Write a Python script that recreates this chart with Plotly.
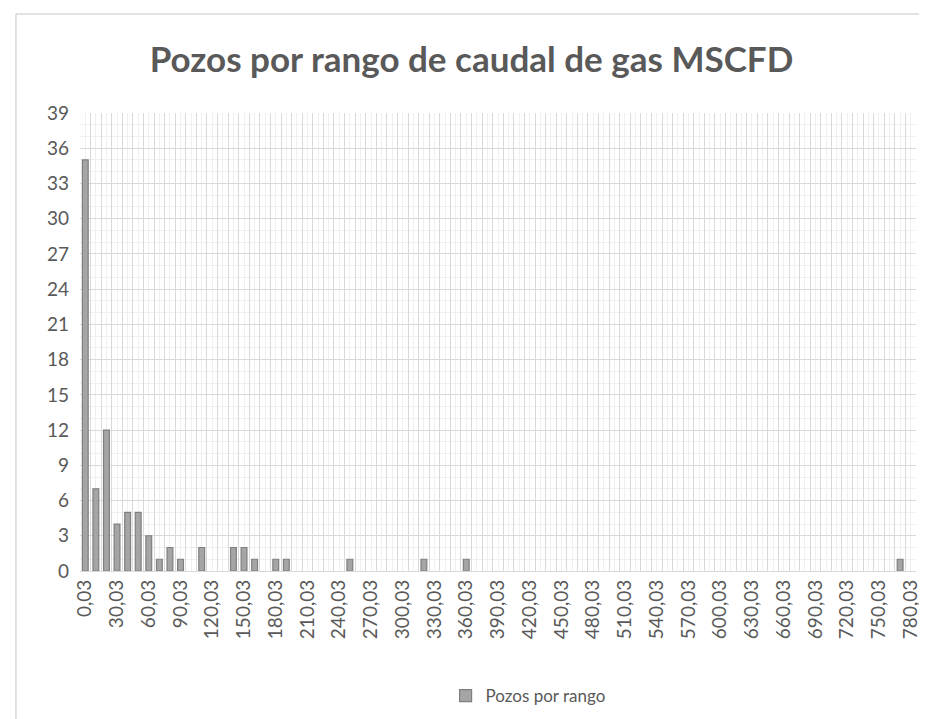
import plotly.graph_objects as go

categories = [f"{i*10},03" for i in range(79)]
values = [35, 7, 12, 4, 5, 5, 3, 1, 2, 1,
          0, 2, 0, 0, 2, 2, 1, 0, 1, 1,
          0, 0, 0, 0, 0, 1, 0, 0, 0, 0,
          0, 0, 1, 0, 0, 0, 1, 0, 0, 0,
          0, 0, 0, 0, 0, 0, 0, 0, 0, 0,
          0, 0, 0, 0, 0, 0, 0, 0, 0, 0,
          0, 0, 0, 0, 0, 0, 0, 0, 0, 0,
          0, 0, 0, 0, 0, 0, 0, 1, 0]
series_name = "Pozos por rango"
title_text = "Pozos por rango de caudal de gas MSCFD"
y_ticks = list(range(0, 40, 3))

n = len(categories)
pos = list(range(n))
FONT = "Lato, Calibri, sans-serif"
TXT = "#595959"

fig = go.Figure()
# invisible trace that activates the base x axis (which carries the vertical grid)
fig.add_trace(go.Scatter(x=pos, y=values, mode="none", xaxis="x", yaxis="y",
                         showlegend=False, hoverinfo="skip"))
fig.add_trace(go.Bar(
    x=pos, y=[v if v else None for v in values], name=series_name,
    xaxis="x2", yaxis="y",
    width=0.55,
    marker=dict(color="#a5a5a5", line=dict(color="#7f7f7f", width=1.2)),
    showlegend=True,
))

fig.update_layout(
    width=927, height=719,
    margin=dict(l=72, r=19, t=105, b=156),
    paper_bgcolor="white", plot_bgcolor="white",
    font=dict(family=FONT, color=TXT, size=16),
    title=dict(text=f"<b>{title_text}</b>", x=0.5, xanchor="center",
               y=1 - 52/719, yanchor="middle",
               font=dict(size=35, color=TXT, family=FONT)),
    xaxis=dict(
        range=[-0.5, n - 0.5], showticklabels=False, ticks="",
        tickmode="array", tickvals=[i - 0.5 for i in range(n + 1)],
        showgrid=True, gridcolor="#d9d9d9", gridwidth=1.3, zeroline=False,
        minor=dict(tickmode="array", tickvals=pos, showgrid=True,
                   gridcolor="#f0f0f0", gridwidth=1, ticks=""),
        showline=False, fixedrange=True,
    ),
    xaxis2=dict(
        overlaying="x", anchor="y", side="bottom",
        range=[-0.5, n - 0.5], tickmode="array",
        tickvals=pos[::3], ticktext=categories[::3], tickangle=-90,
        showgrid=False, zeroline=False, ticks="",
        showline=True, linecolor="#d9d9d9", linewidth=1.3,
        tickfont=dict(size=19, color=TXT, family=FONT),
    ),
    yaxis=dict(
        range=[0, 39], tickmode="array", tickvals=y_ticks,
        showgrid=True, gridcolor="#d9d9d9", gridwidth=1.3, zeroline=False,
        minor=dict(dtick=1, showgrid=True, gridcolor="#f0f0f0", gridwidth=1),
        tickfont=dict(size=19, color=TXT, family=FONT), ticks="",
        ticklabelstandoff=10,
    ),
    legend=dict(orientation="h", x=0.536, xanchor="center", y=(563-688)/458,
                yanchor="middle", font=dict(size=17, color=TXT, family=FONT)),
    shapes=[
        dict(type="line", xref="paper", yref="paper",
             x0=(8-72)/835.4, x1=(926-72)/835.4, y0=(563-6)/458, y1=(563-6)/458,
             line=dict(color="#d9d9d9", width=1.5)),
        dict(type="line", xref="paper", yref="paper",
             x0=(8-72)/835.4, x1=(8-72)/835.4, y0=(563-6)/458, y1=(563-719)/458,
             line=dict(color="#d9d9d9", width=1.5)),
    ],
)

fig.write_html("out.html")
